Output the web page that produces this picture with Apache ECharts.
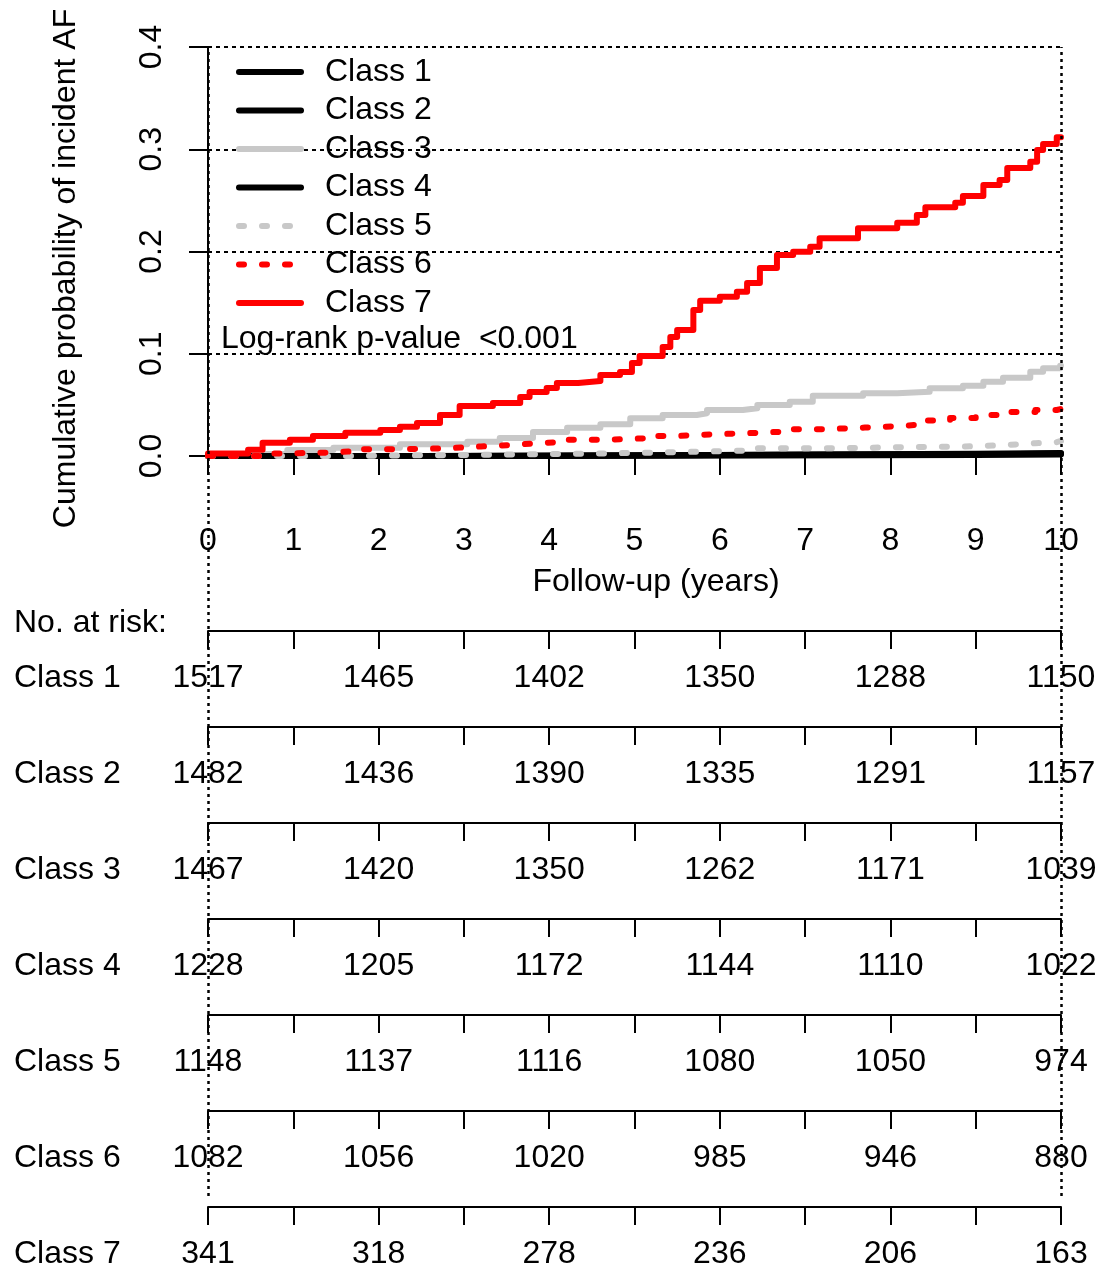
<!DOCTYPE html>
<html>
<head>
<meta charset="utf-8">
<script src="https://cdn.jsdelivr.net/npm/echarts@6/dist/echarts.min.js"></script>
<style>html,body{margin:0;padding:0;background:#fff}#c{width:1114px;height:1268px}</style>
</head>
<body>
<div id="c"></div>
<script>
// ---- data ----
const classes = ['Class 1','Class 2','Class 3','Class 4','Class 5','Class 6','Class 7'];
const colors = ['#000000','#000000','#c8c8c8','#000000','#c8c8c8','#ff0000','#ff0000'];
const dashed = [false,false,false,false,true,true,false];
const xTicks = [0,1,2,3,4,5,6,7,8,9,10];
const yTicks = [0,0.1,0.2,0.3,0.4];
const riskYears = [0,2,4,6,8,10];

const c1Time = [0, 2.5, 5, 6.8, 9.5, 10];
const c1Prob = [0, 0.0007, 0.0013, 0.002, 0.0025, 0.0025];
const c2Time = [0, 3, 5.5, 7, 9, 10];
const c2Prob = [0, 0.0007, 0.0015, 0.0022, 0.003, 0.003];
const c3Time = [0, 0.5, 0.93, 1.47, 2.25, 3.04, 3.42, 3.81, 4.21, 4.6, 4.95, 5.33, 5.73, 5.85, 6.27, 6.44, 6.82, 7.09, 7.68, 8.08, 8.46, 8.85, 9.09, 9.32, 9.64, 9.79, 9.99, 10];
const c3Prob = [0, 0.002, 0.0059, 0.0081, 0.0114, 0.014, 0.0176, 0.0235, 0.0277, 0.031, 0.0369, 0.0401, 0.0418, 0.045, 0.0467, 0.0499, 0.0531, 0.059, 0.0613, 0.0629, 0.0662, 0.0688, 0.0727, 0.0766, 0.0824, 0.0858, 0.0883, 0.0883];
const c4Time = [0, 4, 6.5, 9, 10];
const c4Prob = [0, 0.0005, 0.001, 0.0015, 0.0015];
const c5Time = [0, 1.5, 3, 4.2, 5, 5.8, 6.4, 7.2, 8.5, 9.0, 9.4, 9.7, 9.95, 10];
const c5Prob = [0, 0.001, 0.002, 0.003, 0.0043, 0.0055, 0.0075, 0.009, 0.0095, 0.011, 0.0125, 0.0135, 0.0147, 0.0147];
const c6Time = [0, 0.6, 0.85, 1.4, 1.65, 2.2, 2.8, 3.2, 3.55, 3.9, 4.2, 4.7, 5.1, 5.5, 5.9, 6.3, 6.75, 7.2, 7.7, 8.1, 8.4, 8.7, 9.0, 9.35, 9.7, 9.95, 10];
const c6Prob = [0, 0.0025, 0.0033, 0.0043, 0.0066, 0.0075, 0.0093, 0.0108, 0.0127, 0.014, 0.016, 0.0172, 0.0196, 0.0212, 0.0222, 0.0238, 0.0261, 0.0278, 0.0292, 0.031, 0.0347, 0.0372, 0.0401, 0.043, 0.045, 0.046, 0.046];
const c7Time = [0, 0.47, 0.64, 0.96, 1.23, 1.61, 2.02, 2.25, 2.45, 2.72, 2.95, 3.34, 3.66, 3.77, 3.97, 4.09, 4.34, 4.6, 4.83, 4.97, 5.06, 5.33, 5.42, 5.5, 5.69, 5.77, 6.0, 6.2, 6.32, 6.47, 6.67, 6.86, 7.06, 7.17, 7.62, 8.08, 8.31, 8.41, 8.76, 8.85, 9.09, 9.28, 9.37, 9.64, 9.72, 9.79, 9.95, 10];
const c7Prob = [0.0025, 0.006, 0.013, 0.016, 0.0196, 0.0228, 0.0254, 0.0287, 0.0323, 0.04, 0.0489, 0.0518, 0.0577, 0.0626, 0.0665, 0.0714, 0.0733, 0.0792, 0.0822, 0.091, 0.0978, 0.1066, 0.1164, 0.1232, 0.1428, 0.1519, 0.1558, 0.1607, 0.1692, 0.1839, 0.1966, 0.1998, 0.2047, 0.2129, 0.2227, 0.2282, 0.2357, 0.2432, 0.2477, 0.2543, 0.265, 0.2699, 0.2817, 0.2878, 0.2993, 0.3051, 0.3117, 0.3117];

const risk1 = [1517,1465,1402,1350,1288,1150];
const risk2 = [1482,1436,1390,1335,1291,1157];
const risk3 = [1467,1420,1350,1262,1171,1039];
const risk4 = [1228,1205,1172,1144,1110,1022];
const risk5 = [1148,1137,1116,1080,1050,974];
const risk6 = [1082,1056,1020,985,946,880];
const risk7 = [341,318,278,236,206,163];

const times = [c1Time,c2Time,c3Time,c4Time,c5Time,c6Time,c7Time];
const probs = [c1Prob,c2Prob,c3Prob,c4Prob,c5Prob,c6Prob,c7Prob];
const risks = [risk1,risk2,risk3,risk4,risk5,risk6,risk7];

// ---- layout ----
const FONT = 'Liberation Sans, Arial, Helvetica, sans-serif';
const FS = 32;
const L = 208, R = 53;
const txt = {color:'#000', fontSize: FS, fontFamily: FONT, lineHeight: FS};
const xMin = xTicks[0], xMax = xTicks[xTicks.length-1];
const gridBase = {outerBoundsMode: 'none', containLabel: false};

const grids = [], xAxes = [], yAxes = [], series = [], titles = [];

// main KM grid
grids.push({...gridBase, left: L, right: R, top: 47, height: 409});
xAxes.push({
  gridIndex: 0, type: 'value', min: xMin, max: xMax, interval: 1, offset: 46,
  axisLine: {show: true, lineStyle: {color: '#000', width: 2}},
  axisTick: {show: true, length: 19, lineStyle: {color: '#000', width: 2}},
  axisLabel: {show: true, margin: 23, showMinLabel: true, showMaxLabel: true, ...txt},
  splitLine: {show: false},
  name: 'Follow-up (years)', nameLocation: 'middle', nameGap: 64,
  nameTextStyle: {...txt, padding: [0, 0, 0, 43]}
});
yAxes.push({
  gridIndex: 0, type: 'value', min: yTicks[0], max: yTicks[yTicks.length-1], interval: 0.1,
  axisLine: {show: true, lineStyle: {color: '#000', width: 2}},
  axisTick: {show: true, length: 19, lineStyle: {color: '#000', width: 2}},
  axisLabel: {show: true, rotate: 90, margin: 40, formatter: v => v.toFixed(1), showMinLabel: true, showMaxLabel: true, ...txt},
  splitLine: {show: true, lineStyle: {color: '#000', width: 2, type: [4, 4]}},
  name: 'Cumulative probability of incident AF', nameLocation: 'middle', nameGap: 126,
  nameTextStyle: {...txt, padding: [0, 34, 0, 0]}
});
classes.forEach((c, i) => {
  series.push({
    name: c, type: 'line', step: 'end', symbol: 'none', xAxisIndex: 0, yAxisIndex: 0,
    data: times[i].map((t, k) => [t, probs[i][k]]),
    lineStyle: {color: colors[i], width: 6, type: dashed[i] ? [5, 18] : 'solid', cap: 'round', join: 'round'},
    itemStyle: {color: colors[i]},
    silent: true
  });
});

// risk table rows
classes.forEach((c, i) => {
  const lineY = 631 + 96 * i;
  const gi = grids.length;
  grids.push({...gridBase, left: L, right: R, top: lineY - 1, height: 1});
  const rk = risks[i];
  xAxes.push({
    gridIndex: gi, type: 'value', min: xMin, max: xMax, interval: 1,
    axisLine: {show: true, lineStyle: {color: '#000', width: 2}},
    axisTick: {show: true, length: 18, lineStyle: {color: '#000', width: 2}},
    axisLabel: {show: true, margin: 31, showMinLabel: true, showMaxLabel: true, ...txt,
      formatter: v => { const k = riskYears.indexOf(v); return k >= 0 ? String(rk[k]) : ''; }},
    splitLine: {show: false}
  });
  yAxes.push({gridIndex: gi, type: 'value', min: 0, max: 1, show: false});
  titles.push({text: c, left: 14, top: lineY + 47 - FS / 2, padding: 0, textStyle: {...txt, fontWeight: 'normal'}});
});

// guide grid for vertical dotted lines
const gg = grids.length;
grids.push({...gridBase, left: L, right: R, top: 47, bottom: 72});
xAxes.push({gridIndex: gg, type: 'value', min: xMin, max: xMax, show: false});
yAxes.push({gridIndex: gg, type: 'value', min: 0, max: 1, show: false});
series.push({
  type: 'line', xAxisIndex: gg, yAxisIndex: gg, data: [], silent: true,
  markLine: {symbol: 'none', silent: true, label: {show: false},
    lineStyle: {color: '#000', width: 2.5, type: [3, 4]},
    data: [{xAxis: xMin}, {xAxis: xMax}]}
});

titles.push({text: 'Log-rank p-value  <0.001', left: 221, top: 339 - FS / 2, padding: 0, textStyle: {...txt, fontWeight: 'normal'}});
titles.push({text: 'No. at risk:', left: 14, top: 623 - FS / 2, padding: 0, textStyle: {...txt, fontWeight: 'normal'}});

const option = {
  animation: false,
  backgroundColor: '#fff',
  textStyle: {fontFamily: FONT},
  title: titles,
  legend: {
    data: classes, orient: 'vertical', left: 236, top: 56, padding: 0,
    itemWidth: 62, itemHeight: 32, itemGap: 6.5,
    lineStyle: {width: 'inherit'},
    itemStyle: {opacity: 0},
    textStyle: {...txt, padding: [0, 0, 0, 19]},
    selectedMode: false
  },
  grid: grids, xAxis: xAxes, yAxis: yAxes, series: series
};
const chart = echarts.init(document.getElementById('c'), null, {renderer: 'canvas'});
chart.setOption(option);
</script>
</body>
</html>
